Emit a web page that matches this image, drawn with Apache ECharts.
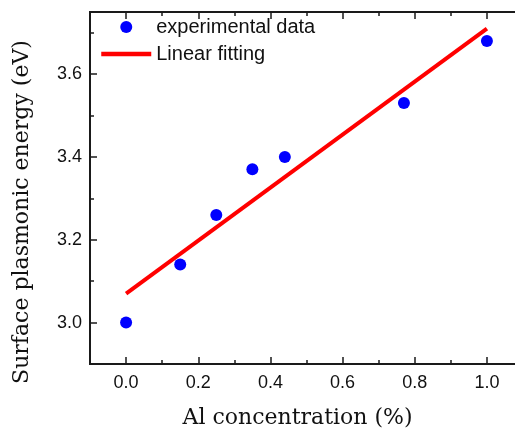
<!DOCTYPE html>
<html>
<head>
<meta charset="utf-8">
<script src="https://cdn.jsdelivr.net/npm/echarts@6/dist/echarts.min.js"></script>
<style>html,body{margin:0;padding:0;background:#fff}#c{width:515px;height:429px}</style>
</head>
<body>
<div id="c"></div>
<script>
// Data
var concentration = [0, 0.15, 0.25, 0.35, 0.44, 0.77, 1.0];
var energy = [3.00, 3.14, 3.26, 3.37, 3.40, 3.53, 3.68];
var fitX = [0, 1.0];
var fitY = [3.07, 3.71];
var xMajor = [0, 0.2, 0.4, 0.6, 0.8, 1.0];
var xMinor = [-0.1, 0.1, 0.3, 0.5, 0.7, 0.9, 1.1];
var yMajor = [3.0, 3.2, 3.4, 3.6];
var yMinor = [2.9, 3.1, 3.3, 3.5, 3.7];

var chart = echarts.init(document.getElementById('c'), null, {renderer: 'canvas'});
var axisColor = '#1a1a1a';
function xAxisCfg(pos, showLabels, ticks, len, showName) {
  return {
    type: 'value', position: pos, min: -0.1, max: 1.1, offset: 0,
    axisLine: {show: true, onZero: false, lineStyle: {color: axisColor, width: 2}},
    axisTick: {show: true, inside: true, length: len, customValues: ticks, lineStyle: {color: axisColor, width: 1.5}},
    axisLabel: {show: showLabels, customValues: xMajor, margin: 10, color: '#111', fontFamily: 'Liberation Sans', fontSize: 18,
      formatter: function (v) { return v.toFixed(1); }},
    splitLine: {show: false},
    name: showName ? 'Al concentration (%)' : '',
    nameLocation: 'middle', nameGap: 43,
    nameTextStyle: {fontFamily: 'DejaVu Serif', fontSize: 22, color: '#111', padding: [0, 18, 0, 0]}
  };
}
function yAxisCfg(ticks, len, showLabels, showName) {
  return {
    type: 'value', position: 'left', min: 2.9, max: 3.75, offset: 0,
    axisLine: {show: true, onZero: false, lineStyle: {color: axisColor, width: 2}},
    axisTick: {show: true, inside: true, length: len, customValues: ticks, lineStyle: {color: axisColor, width: 1.5}},
    axisLabel: {show: showLabels, customValues: yMajor, margin: 8, color: '#111', fontFamily: 'Liberation Sans', fontSize: 18,
      formatter: function (v) { return v.toFixed(1); }},
    splitLine: {show: false},
    name: showName ? 'Surface plasmonic energy (eV)' : '',
    nameLocation: 'middle', nameGap: 57,
    nameTextStyle: {fontFamily: 'DejaVu Serif', fontSize: 22, color: '#111', padding: [0, 48, 0, 0]}
  };
}

chart.setOption({
  animation: false,
  grid: {left: 90, top: 12, width: 433, height: 352, containLabel: false, outerBoundsMode: 'none'},
  xAxis: [
    xAxisCfg('bottom', true, xMajor, 7, true),
    xAxisCfg('bottom', false, xMinor, 4, false),
    xAxisCfg('top', false, xMajor, 7, false),
    xAxisCfg('top', false, xMinor, 4, false)
  ],
  yAxis: [
    yAxisCfg(yMajor, 7, true, true),
    yAxisCfg(yMinor, 4, false, false)
  ],
  legend: {
    orient: 'vertical', left: 94, top: 12,
    itemWidth: 50, itemHeight: 12, itemGap: 7,
    textStyle: {fontFamily: 'Liberation Sans', fontSize: 20, lineHeight: 20, color: '#111'},
    data: [
      {name: 'experimental data', icon: 'circle'},
      {name: 'Linear fitting', itemStyle: {opacity: 0}, lineStyle: {width: 4.5, color: '#ff0000', opacity: 1}}
    ]
  },
  series: [
    {
      name: 'Linear fitting', type: 'line', xAxisIndex: 0, yAxisIndex: 0,
      data: fitX.map(function (x, i) { return [x, fitY[i]]; }),
      showSymbol: false, symbol: 'none',
      lineStyle: {color: '#ff0000', width: 4}, itemStyle: {color: '#ff0000'},
      z: 2
    },
    {
      name: 'experimental data', type: 'scatter', xAxisIndex: 0, yAxisIndex: 0,
      data: concentration.map(function (x, i) { return [x, energy[i]]; }),
      symbol: 'circle', symbolSize: 12,
      itemStyle: {color: '#0000ff', opacity: 1},
      z: 3
    }
  ]
});
</script>
</body>
</html>
